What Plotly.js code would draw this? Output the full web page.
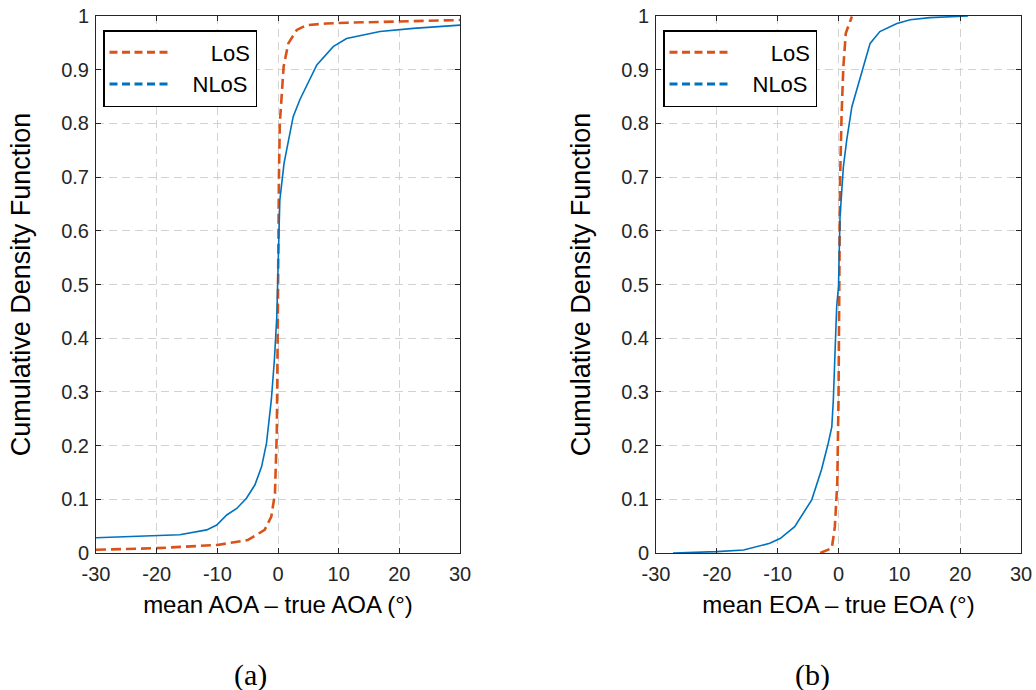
<!DOCTYPE html>
<html>
<head>
<meta charset="utf-8">
<script src="https://cdn.plot.ly/plotly-3.0.1.min.js"></script>
<style>html,body{margin:0;padding:0;background:#fff;}#chart{width:1036px;height:690px;}</style>
</head>
<body>
<div id="chart"></div>
<script>
// ---- data ----
const aoaLosX = [-30,-20,-10,-5,-2.2,-1.1,-0.5,-0.2,-0.05,0,0.15,0.3,0.55,0.93,1.7,3.1,4.7,8,11.3,20,30];
const aoaLosY = [0.006,0.009,0.015,0.024,0.043,0.068,0.111,0.223,0.409,0.5,0.7,0.8,0.844,0.906,0.949,0.974,0.983,0.986,0.9875,0.990,0.9925];
const aoaNlosX = [-30,-20,-16.2,-11.75,-10.1,-8.45,-6.8,-5.2,-3.8,-2.7,-1.9,-1.1,-0.6,-0.2,0,0.3,1,2.5,3.6,6.4,9.1,11.3,16.8,22.3,30];
const aoaNlosY = [0.0285,0.0317,0.034,0.043,0.052,0.0708,0.083,0.102,0.127,0.161,0.204,0.285,0.359,0.44,0.52,0.657,0.726,0.8125,0.844,0.909,0.943,0.958,0.971,0.977,0.983];
const eoaLosX = [-3.0,-1.1,-0.6,-0.2,0,0.1,0.15,0.25,0.5,0.8,1.2,2.2];
const eoaLosY = [0,0.009,0.049,0.13,0.285,0.44,0.5,0.688,0.8125,0.906,0.968,0.999];
const eoaNlosX = [-27.2,-20,-15.6,-11.3,-9.6,-7.2,-4.4,-2.8,-1.7,-1.1,-0.85,-0.6,-0.3,0,0.25,0.8,1.35,2.2,3.25,4.1,5.2,6.8,9.6,11.8,15,21.3];
const eoaNlosY = [0,0.0025,0.0056,0.018,0.027,0.049,0.099,0.155,0.204,0.235,0.285,0.378,0.459,0.496,0.626,0.719,0.769,0.831,0.875,0.906,0.949,0.971,0.986,0.993,0.997,1.0];

const seriesNames = ['LoS', 'NLoS'];
const xTickVals = [-30,-20,-10,0,10,20,30];
const xTickLabels = ['-30','-20','-10','0','10','20','30'];
const yTickVals = [0,0.1,0.2,0.3,0.4,0.5,0.6,0.7,0.8,0.9,1];
const yTickLabels = ['0','0.1','0.2','0.3','0.4','0.5','0.6','0.7','0.8','0.9','1'];
const xTitles = ['mean AOA \u2013 true AOA (\u00b0)', 'mean EOA \u2013 true EOA (\u00b0)'];
const yTitle = 'Cumulative Density Function';
const panelLabels = ['(a)', '(b)'];

// ---- styling ----
const W = 1036, H = 690;
const cLos = '#D95319', cNlos = '#0072BD';
const losDash = '10px,5px';
const legDash = '8px,4.5px';
const axCol = '#262626';
const font = 'Liberation Sans, Arial, Helvetica, sans-serif';
const pad = '\u00a0\u00a0\u00a0';

function mkAxisX(domain, title, anchor) {
  return {
    domain: domain, anchor: anchor, range: [-30, 30], autorange: false,
    tickmode: 'array', tickvals: xTickVals, ticktext: xTickLabels,
    ticks: 'inside', ticklen: 5, tickwidth: 1, tickcolor: axCol,
    showline: true, linecolor: axCol, linewidth: 1, mirror: 'ticks',
    showgrid: true, gridcolor: '#d2d2d2', gridwidth: 1, griddash: '8px,5px',
    zeroline: false, ticklabelstandoff: 3,
    tickfont: {family: font, size: 20, color: axCol},
    title: {text: title, font: {family: font, size: 24, color: '#000'}, standoff: 12}
  };
}
function mkAxisY(domain, anchor) {
  return {
    domain: domain, anchor: anchor, range: [0, 1], autorange: false,
    tickmode: 'array', tickvals: yTickVals, ticktext: yTickLabels,
    ticks: 'inside', ticklen: 5, tickwidth: 1, tickcolor: axCol,
    showline: true, linecolor: axCol, linewidth: 1, mirror: 'ticks',
    showgrid: true, gridcolor: '#d2d2d2', gridwidth: 1, griddash: '8px,5px',
    zeroline: false, ticklabelstandoff: 2,
    tickfont: {family: font, size: 20, color: axCol},
    title: {text: yTitle, font: {family: font, size: 27, color: '#000'}, standoff: 22}
  };
}

const yDom = [(H - 553) / H, (H - 16) / H];
const traces = [
  // panel (a)
  {x: aoaLosX, y: aoaLosY, xaxis: 'x', yaxis: 'y', mode: 'lines', name: seriesNames[0],
   line: {color: cLos, width: 2.6, dash: losDash}, showlegend: false},
  {x: aoaNlosX, y: aoaNlosY, xaxis: 'x', yaxis: 'y', mode: 'lines', name: seriesNames[1],
   line: {color: cNlos, width: 1.6}, showlegend: false},
  {x: [null], y: [null], xaxis: 'x', yaxis: 'y', mode: 'lines', name: pad + seriesNames[0],
   line: {color: cLos, width: 3, dash: legDash}, legend: 'legend'},
  {x: [null], y: [null], xaxis: 'x', yaxis: 'y', mode: 'lines', name: seriesNames[1],
   line: {color: cNlos, width: 3, dash: legDash}, legend: 'legend'},
  // panel (b)
  {x: eoaLosX, y: eoaLosY, xaxis: 'x2', yaxis: 'y2', mode: 'lines', name: seriesNames[0],
   line: {color: cLos, width: 2.6, dash: losDash}, showlegend: false},
  {x: eoaNlosX, y: eoaNlosY, xaxis: 'x2', yaxis: 'y2', mode: 'lines', name: seriesNames[1],
   line: {color: cNlos, width: 1.6}, showlegend: false},
  {x: [null], y: [null], xaxis: 'x2', yaxis: 'y2', mode: 'lines', name: pad + seriesNames[0],
   line: {color: cLos, width: 3, dash: legDash}, legend: 'legend2'},
  {x: [null], y: [null], xaxis: 'x2', yaxis: 'y2', mode: 'lines', name: seriesNames[1],
   line: {color: cNlos, width: 3, dash: legDash}, legend: 'legend2'}
];

function mkLegend(xpx) {
  return {
    x: xpx / W, y: 1 - 30 / H, xanchor: 'left', yanchor: 'top',
    bgcolor: '#ffffff', bordercolor: '#000', borderwidth: 1.5,
    font: {family: font, size: 22, color: '#000'},
    itemwidth: 78, tracegroupgap: 0, traceorder: 'normal'
  };
}

const layout = {
  width: W, height: H,
  margin: {l: 0, r: 0, t: 0, b: 0},
  paper_bgcolor: '#fff', plot_bgcolor: '#fff',
  showlegend: true,
  xaxis: mkAxisX([96 / W, 460 / W], xTitles[0], 'y'),
  yaxis: mkAxisY(yDom, 'x'),
  xaxis2: mkAxisX([656 / W, 1021 / W], xTitles[1], 'y2'),
  yaxis2: mkAxisY(yDom, 'x2'),
  legend: mkLegend(103),
  legend2: mkLegend(663),
  annotations: [
    {text: panelLabels[0], xref: 'paper', yref: 'paper', x: 250 / W, y: 1 - 675 / H,
     xanchor: 'center', yanchor: 'middle', showarrow: false,
     font: {family: 'Liberation Serif, Times New Roman, serif', size: 30, color: '#000'}},
    {text: panelLabels[1], xref: 'paper', yref: 'paper', x: 812 / W, y: 1 - 675 / H,
     xanchor: 'center', yanchor: 'middle', showarrow: false,
     font: {family: 'Liberation Serif, Times New Roman, serif', size: 30, color: '#000'}}
  ]
};

Plotly.newPlot('chart', traces, layout, {staticPlot: true, displayModeBar: false}).then(function (gd) {
  // lengthen the legend line samples to match the reference's longer swatches
  gd.querySelectorAll('.legendlines path').forEach(function (p) {
    p.setAttribute('d', 'M5,0h61');
  });
});
</script>
</body>
</html>
